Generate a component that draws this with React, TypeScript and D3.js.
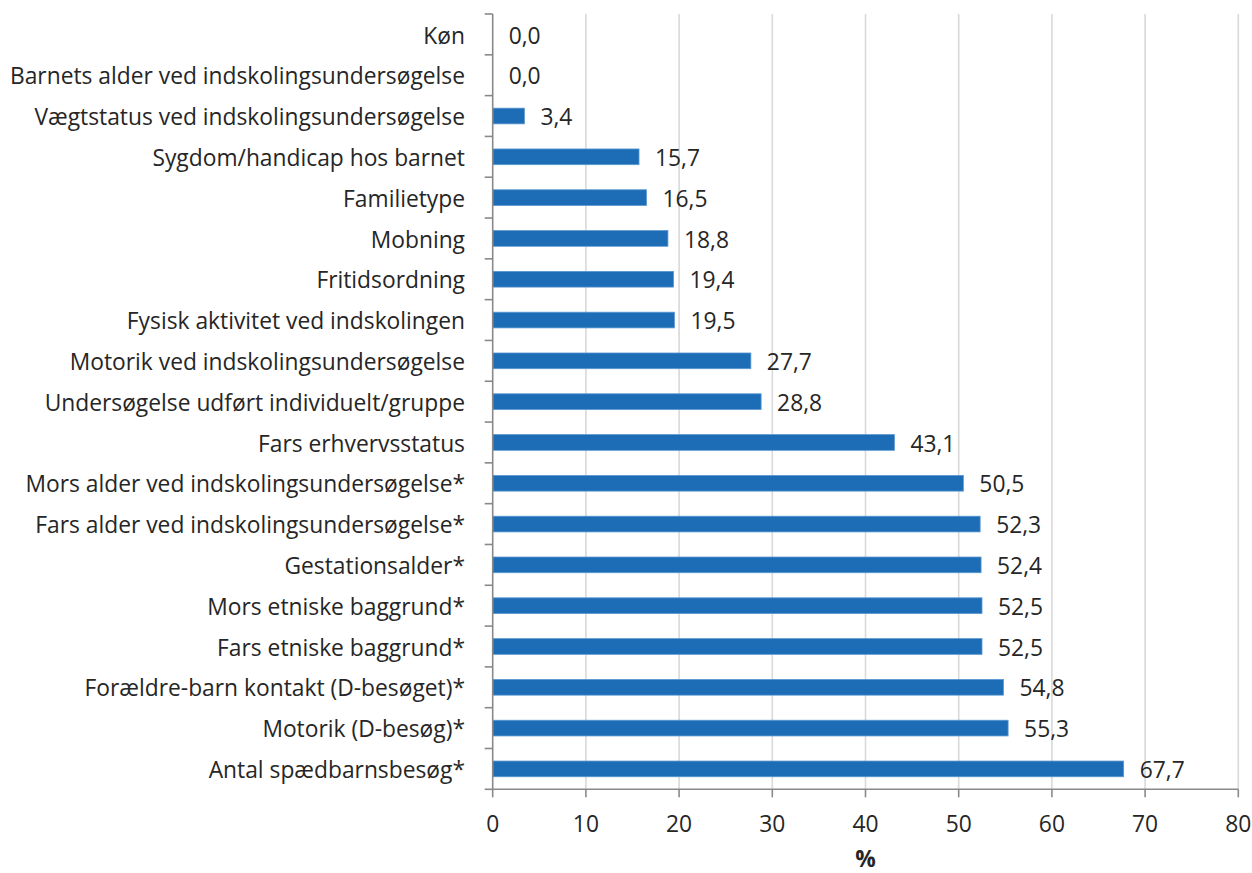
import React from "react";
import * as d3 from "d3";

const categories: string[] = [
  "Køn",
  "Barnets alder ved indskolingsundersøgelse",
  "Vægtstatus ved indskolingsundersøgelse",
  "Sygdom/handicap hos barnet",
  "Familietype",
  "Mobning",
  "Fritidsordning",
  "Fysisk aktivitet ved indskolingen",
  "Motorik ved indskolingsundersøgelse",
  "Undersøgelse udført individuelt/gruppe",
  "Fars erhvervsstatus",
  "Mors alder ved indskolingsundersøgelse*",
  "Fars alder ved indskolingsundersøgelse*",
  "Gestationsalder*",
  "Mors etniske baggrund*",
  "Fars etniske baggrund*",
  "Forældre-barn kontakt (D-besøget)*",
  "Motorik (D-besøg)*",
  "Antal spædbarnsbesøg*",
];

const values: number[] = [
  0.0, 0.0, 3.4, 15.7, 16.5, 18.8, 19.4, 19.5, 27.7, 28.8, 43.1, 50.5, 52.3,
  52.4, 52.5, 52.5, 54.8, 55.3, 67.7,
];

const xTicks: number[] = [0, 10, 20, 30, 40, 50, 60, 70, 80];
const xAxisTitle = "%";

const W = 1252;
const H = 873;
const FONT = "'Open Sans', sans-serif";
const FS = 22.8;
const TEXT = "#262626";

export default function App() {
  const left = 492.7;
  const right = 1238.3;
  const top = 14;
  const bottom = 789.3;

  const x = d3.scaleLinear().domain([0, 80]).range([left, right]);
  const y = d3
    .scaleBand<string>()
    .domain(categories)
    .range([top, bottom])
    .paddingInner(0.615)
    .paddingOuter(0.3075);
  const yEdges = d3.range(categories.length + 1).map((i) => top + (i * (bottom - top)) / categories.length);
  const fmt = (v: number) => d3.format(".1f")(v).replace(".", ",");

  return (
    <div style={{ position: "fixed", left: 0, top: 0, width: W, height: H, background: "#fff" }}>
      <svg width={W} height={H} style={{ display: "block" }} fontFamily={FONT}>
        {/* grid */}
        {xTicks.slice(1).map((t) => (
          <line key={"g" + t} x1={x(t)} x2={x(t)} y1={top} y2={bottom} stroke="#d9d9d9" strokeWidth={1.6} />
        ))}
        {/* bars */}
        {categories.map((c, i) => (
          <rect
            key={"b" + c}
            x={x(0)}
            y={y(c)!}
            width={Math.max(0, x(values[i]) - x(0))}
            height={y.bandwidth()}
            fill="#1c6db5"
            stroke={values[i] > 0 ? "#5a97d2" : "none"}
            strokeWidth={0.8}
          />
        ))}
        {/* value labels */}
        {categories.map((c, i) => (
          <text
            key={"v" + c}
            x={x(values[i]) + 16}
            y={y(c)! + y.bandwidth() / 2 + FS * 0.36 + 1}
            fontSize={FS}
            fill={TEXT}
          >
            {fmt(values[i])}
          </text>
        ))}
        {/* y axis */}
        <line x1={left} x2={left} y1={top} y2={bottom} stroke="#898989" strokeWidth={1.6} />
        {yEdges.map((e, i) => (
          <line key={"yt" + i} x1={left - 8} x2={left} y1={e} y2={e} stroke="#898989" strokeWidth={1.6} />
        ))}
        {categories.map((c) => (
          <text
            key={"c" + c}
            x={465}
            y={y(c)! + y.bandwidth() / 2 + FS * 0.36 + 1}
            fontSize={FS}
            fill={TEXT}
            textAnchor="end"
          >
            {c}
          </text>
        ))}
        {/* x axis */}
        <line x1={left} x2={right} y1={bottom} y2={bottom} stroke="#898989" strokeWidth={1.6} />
        {xTicks.map((t) => (
          <g key={"xt" + t}>
            <line x1={x(t)} x2={x(t)} y1={bottom} y2={bottom + 8} stroke="#898989" strokeWidth={1.6} />
            <text x={x(t)} y={832} fontSize={FS} fill={TEXT} textAnchor="middle">
              {t}
            </text>
          </g>
        ))}
        <text x={(left + right) / 2} y={867} fontSize={FS} fontWeight="bold" fill={TEXT} textAnchor="middle">
          {xAxisTitle}
        </text>
      </svg>
    </div>
  );
}
